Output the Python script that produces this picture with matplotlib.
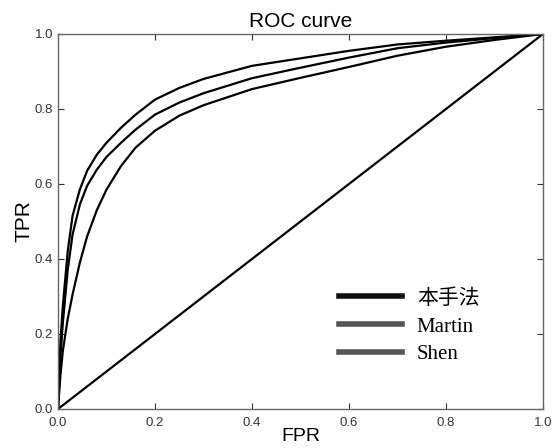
import matplotlib
matplotlib.use('Agg')
import matplotlib.pyplot as plt
from matplotlib.font_manager import FontProperties

# FPR 采样点
fpr = [0.0, 0.005, 0.01, 0.02, 0.03, 0.045, 0.06, 0.08, 0.1, 0.13, 0.16, 0.2, 0.25, 0.3,
       0.4, 0.5, 0.6, 0.7, 0.8, 0.9, 1.0]
# TPR (本手法 / Martin / Shen)
tpr_ours = [0.0, 0.18, 0.275, 0.42, 0.515, 0.585, 0.635, 0.678, 0.71, 0.75, 0.785, 0.825, 0.856, 0.88,
            0.915, 0.935, 0.955, 0.972, 0.982, 0.991, 1.0]
tpr_martin = [0.0, 0.14, 0.23, 0.37, 0.465, 0.545, 0.595, 0.638, 0.672, 0.71, 0.745, 0.785, 0.817, 0.842,
              0.882, 0.91, 0.937, 0.962, 0.977, 0.989, 1.0]
tpr_shen = [0.0, 0.09, 0.155, 0.24, 0.305, 0.39, 0.46, 0.53, 0.585, 0.648, 0.697, 0.742, 0.782, 0.81,
            0.853, 0.883, 0.912, 0.942, 0.966, 0.984, 1.0]
etiquetas = ['本手法', 'Martin', 'Shen']
cores_legenda = ['#111111', '#555555', '#555555']

plt.rcParams['font.family'] = ['Liberation Sans', 'DejaVu Sans']

fig = plt.figure(figsize=(5.55, 4.48), dpi=100)
ax = fig.add_axes([0.1045, 0.0871, 0.8739, 0.8371])

linhas = []
for tpr, lab in zip([tpr_ours, tpr_martin, tpr_shen], etiquetas):
    l, = ax.plot(fpr, tpr, color='black', lw=1.6, label=lab)
    linhas.append(l)
ax.plot([0, 1], [0, 1], color='black', lw=1.6)

ax.set_xlim(0, 1)
ax.set_ylim(0, 1)
ax.set_xticks([0, 0.2, 0.4, 0.6, 0.8, 1.0])
ax.set_yticks([0, 0.2, 0.4, 0.6, 0.8, 1.0])
ax.tick_params(direction='in', top=True, right=True, labelsize=9.5,
               colors='#333333', length=4, width=0.8)
ax.tick_params(axis='x', pad=6)
for s in ax.spines.values():
    s.set_color('#666666')
    s.set_linewidth(1.0)

ax.set_title('ROC curve', fontsize=15, pad=5)
ax.set_xlabel('FPR', fontsize=14, labelpad=-1)
ax.set_ylabel('TPR', fontsize=15, labelpad=1)

fp = FontProperties(family=['Liberation Serif', 'Noto Sans CJK SC'], size=15)
leg = ax.legend(handles=linhas, loc='upper left', bbox_to_anchor=(0.54, 0.37),
                frameon=False, prop=fp, handlelength=3.05, handletextpad=0.7,
                labelspacing=0.4)
for h, c in zip(leg.get_lines(), cores_legenda):
    h.set_color(c)
    h.set_linewidth(4)

fig.savefig('out.png', dpi=100)
